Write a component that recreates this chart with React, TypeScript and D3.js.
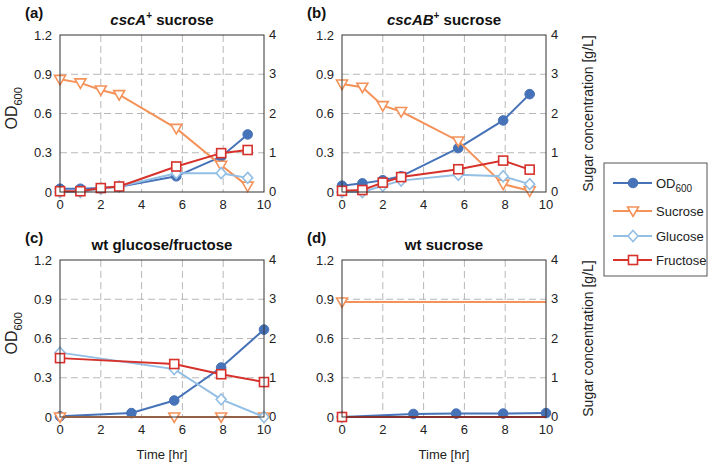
import React from 'react'
import { scaleLinear, line } from 'd3'

// time points [hr]
const timesAB = [0, 1, 2, 2.9, 5.7, 7.9, 9.2]
const timesOD_CD = [0, 3.5, 5.6, 7.9, 10]
const timesSugarC = [0, 5.6, 7.9, 10]
const timesSugarD = [0, 10]

// (a) cscA+ sucrose
const aOD = [0.025, 0.025, 0.03, 0.04, 0.12, 0.27, 0.44]
const aSucrose = [2.87, 2.78, 2.6, 2.48, 1.62, 0.68, 0.15]
const aGlucose = [0, 0, 0.08, 0.14, 0.48, 0.48, 0.36]
const aFructose = [0.02, 0.02, 0.1, 0.14, 0.65, 0.99, 1.07]

// (b) cscAB+ sucrose
const bOD = [0.048, 0.066, 0.09, 0.12, 0.336, 0.547, 0.748]
const bSucrose = [2.75, 2.67, 2.2, 2.05, 1.3, 0.2, 0.03]
const bGlucose = [0, 0, 0.16, 0.29, 0.44, 0.4, 0.2]
const bFructose = [0.03, 0.05, 0.24, 0.38, 0.58, 0.8, 0.57]

// (c) wt glucose/fructose
const cOD = [0.005, 0.03, 0.126, 0.378, 0.668]
const cSucrose = [0, 0, 0, 0]
const cGlucose = [1.64, 1.22, 0.45, 0]
const cFructose = [1.5, 1.35, 1.09, 0.89]

// (d) wt sucrose
const dOD = [0, 0.023, 0.026, 0.026, 0.03]
const dSucrose = [2.93, 2.93]
const dGlucose = [0, 0]
const dFructose = [0, 0]

const xTicks = [0, 2, 4, 6, 8, 10]
const odTicks = [0, 0.3, 0.6, 0.9, 1.2]
const odTickLabels = ['0', '0.3', '0.6', '0.9', '1.2']
const sugarTicks = [0, 1, 2, 3, 4]
const legendNames = ['OD', 'Sucrose', 'Glucose', 'Fructose']

const COLORS = {
  od: '#4672b8',
  sucrose: '#f4925a',
  glucose: '#93bfe4',
  fructose: '#d6312b',
}
const FONT = '"Liberation Sans", Arial, Helvetica, sans-serif'

const zip = (xs, ys) => xs.map((x, i) => [x, ys[i]])

const panels = [
  {
    tag: '(a)', title: ['cscA', '+', ' sucrose'], x0: 60, y0: 35, left: true, bottom: false,
    od: zip(timesAB, aOD), sucrose: zip(timesAB, aSucrose), glucose: zip(timesAB, aGlucose), fructose: zip(timesAB, aFructose),
  },
  {
    tag: '(b)', title: ['cscAB', '+', ' sucrose'], x0: 342, y0: 35, left: false, bottom: false,
    od: zip(timesAB, bOD), sucrose: zip(timesAB, bSucrose), glucose: zip(timesAB, bGlucose), fructose: zip(timesAB, bFructose),
  },
  {
    tag: '(c)', title: [null, null, 'wt glucose/fructose'], x0: 60, y0: 260, left: true, bottom: true,
    od: zip(timesOD_CD, cOD), sucrose: zip(timesSugarC, cSucrose), glucose: zip(timesSugarC, cGlucose), fructose: zip(timesSugarC, cFructose),
  },
  {
    tag: '(d)', title: [null, null, 'wt sucrose'], x0: 342, y0: 260, left: false, bottom: true, firstOnly: true,
    od: zip(timesOD_CD, dOD), sucrose: zip(timesSugarD, dSucrose), glucose: zip(timesSugarD, dGlucose), fructose: zip(timesSugarD, dFructose),
  },
]

const W = 204
const H = 157

function Marker({ kind, x, y }) {
  if (kind === 'od') return <circle cx={x} cy={y} r={4.8} fill={COLORS.od} stroke={COLORS.od} />
  if (kind === 'sucrose')
    return (
      <path d={`M${x - 5.5},${y - 4}L${x + 5.5},${y - 4}L${x},${y + 5.5}Z`}
        fill="#fff" stroke={COLORS.sucrose} strokeWidth={1.6} />
    )
  if (kind === 'glucose')
    return (
      <path d={`M${x},${y - 5.5}L${x + 5},${y}L${x},${y + 5.5}L${x - 5},${y}Z`}
        fill="#fff" stroke={COLORS.glucose} strokeWidth={1.6} />
    )
  return <rect x={x - 4.5} y={y - 4.5} width={9} height={9} fill="#fff" stroke={COLORS.fructose} strokeWidth={1.6} />
}

function Panel({ p }) {
  const x = scaleLinear().domain([0, 10]).range([p.x0, p.x0 + W])
  const yOD = scaleLinear().domain([0, 1.2]).range([p.y0 + H, p.y0])
  const ySug = scaleLinear().domain([0, 4]).range([p.y0 + H, p.y0])
  const series = [
    { key: 'od', data: p.od, y: yOD },
    { key: 'sucrose', data: p.sucrose, y: ySug },
    { key: 'glucose', data: p.glucose, y: ySug },
    { key: 'fructose', data: p.fructose, y: ySug },
  ]
  const cx = p.x0 + W / 2
  return (
    <g>
      {/* grid */}
      {xTicks.slice(1, -1).map(t => (
        <line key={'gx' + t} x1={x(t)} x2={x(t)} y1={p.y0} y2={p.y0 + H}
          stroke="#b8b8b8" strokeDasharray="7,4" />
      ))}
      {odTicks.slice(1, -1).map(t => (
        <line key={'gy' + t} x1={p.x0} x2={p.x0 + W} y1={yOD(t)} y2={yOD(t)}
          stroke="#b8b8b8" strokeDasharray="7,4" />
      ))}
      {/* series */}
      {series.map(s => (
        <g key={s.key}>
          <path d={line().x(d => x(d[0])).y(d => s.y(d[1]))(s.data)}
            fill="none" stroke={COLORS[s.key]} strokeWidth={2} />
          {(s.key !== 'od' && p.firstOnly ? s.data.slice(0, 1) : s.data).map((d, i) => (
            <Marker key={i} kind={s.key} x={x(d[0])} y={s.y(d[1])} />
          ))}
        </g>
      ))}
      <rect x={p.x0} y={p.y0} width={W} height={H} fill="none" stroke="#333" strokeWidth={1} />
      {/* tick labels */}
      <g fontFamily={FONT} fontSize={13} fill="#222">
        {xTicks.map(t => (
          <text key={'tx' + t} x={x(t)} y={p.y0 + H + 17} textAnchor="middle">{t}</text>
        ))}
        {odTicks.map((t, i) => (
          <text key={'ty' + t} x={p.x0 - 8} y={yOD(t) + 4.5} textAnchor="end">{odTickLabels[i]}</text>
        ))}
        {sugarTicks.map(t => (
          <text key={'ts' + t} x={p.x0 + W + 5} y={ySug(t) + 4} >{t}</text>
        ))}
      </g>
      {/* titles */}
      <text x={p.x0 - 35} y={p.y0 - 17} fontFamily={FONT} fontSize={15} fontWeight="bold" fill="#111">{p.tag}</text>
      <text x={cx} y={p.y0 - 10} textAnchor="middle" fontFamily={FONT} fontSize={15} fontWeight="bold" fill="#111">
        {p.title[0] && <tspan fontStyle="italic">{p.title[0]}</tspan>}
        {p.title[1] && <tspan fontSize={10} dy={-6}>{p.title[1]}</tspan>}
        <tspan dy={p.title[1] ? 6 : 0}>{p.title[2]}</tspan>
      </text>
      {p.left && (
        <text transform={`translate(${p.x0 - 43},${p.y0 + H / 2 + 16}) rotate(-90)`}
          fontFamily={FONT} fontSize={16} fill="#222">
          OD<tspan fontSize={11} dy={5}>600</tspan>
        </text>
      )}
      {!p.left && (
        <text transform={`translate(${p.x0 + W + 47},${p.y0 + H / 2}) rotate(-90)`}
          textAnchor="middle" fontFamily={FONT} fontSize={14} fill="#222">
          Sugar concentration [g/L]
        </text>
      )}
      {p.bottom && (
        <text x={cx} y={p.y0 + H + 42} textAnchor="middle" fontFamily={FONT} fontSize={13} fill="#222">
          Time [hr]
        </text>
      )}
    </g>
  )
}

function Legend() {
  const keys = ['od', 'sucrose', 'glucose', 'fructose']
  const ys = [183, 211, 236, 260]
  return (
    <g fontFamily={FONT} fontSize={13} fill="#222">
      <rect x={604} y={163} width={103} height={113} fill="#fff" stroke="#555" />
      {keys.map((k, i) => (
        <g key={k}>
          <line x1={613} x2={652} y1={ys[i]} y2={ys[i]} stroke={COLORS[k]} strokeWidth={2} />
          <Marker kind={k} x={633} y={ys[i]} />
          <text x={656} y={ys[i] + 4.5}>
            {legendNames[i]}
            {k === 'od' && <tspan fontSize={10} dy={4}>600</tspan>}
          </text>
        </g>
      ))}
    </g>
  )
}

export default function App() {
  return (
    <svg width={709} height={463} style={{ position: 'absolute', left: 0, top: 0, background: '#fff' }}>
      {panels.map(p => <Panel key={p.tag} p={p} />)}
      <Legend />
    </svg>
  )
}
